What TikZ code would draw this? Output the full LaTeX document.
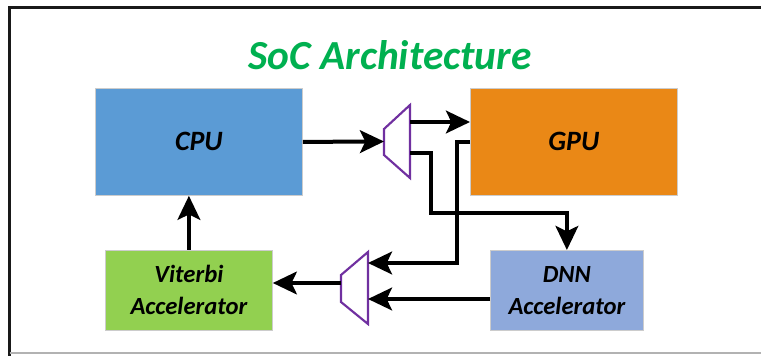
\documentclass[tikz,border=0pt]{standalone}
\usepackage{fontspec}
\setmainfont{Carlito}
\usetikzlibrary{arrows.meta,calc}
\definecolor{titlegreen}{RGB}{0,176,80}
\definecolor{cpublue}{RGB}{91,155,213}
\definecolor{gpuorange}{RGB}{234,136,22}
\definecolor{vitgreen}{RGB}{146,208,80}
\definecolor{dnnblue}{RGB}{142,169,219}
\definecolor{muxpurple}{RGB}{112,48,160}
\tikzset{
  unitbox/.style={draw=black!20, line width=0.6pt, inner sep=0pt, anchor=north west,
    font=\bfseries\itshape\fontsize{18.5}{24}\selectfont, align=center},
  bigtext/.style={font=\bfseries\itshape\fontsize{21}{24}\selectfont},
  arr/.style={line width=3pt, -{Stealth[length=18pt,width=17pt,inset=4pt]}},
  mux/.style={draw=muxpurple, line width=1.6pt, line join=miter}
}
\begin{document}
\begin{tikzpicture}[x=0.75pt,y=-0.75pt]
\useasboundingbox (0,0) rectangle (761,356);
\fill[white] (0,0) rectangle (761,356);
% frame
\draw[line width=2.4pt, black!90] (9.5,356) -- (9.5,7.5) -- (761,7.5);
\draw[line width=1.5pt, black!30] (9.5,353) -- (761,353);
% title
\node[font=\bfseries\itshape\fontsize{31}{36}\selectfont, text=titlegreen] (title) at (390,55) {SoC Architecture};
% boxes
\node[unitbox, bigtext, fill=cpublue, minimum width=207*0.75pt, minimum height=107*0.75pt] (cpu) at (95,88) {CPU};
\node[unitbox, bigtext, fill=gpuorange, minimum width=207*0.75pt, minimum height=107*0.75pt] (gpu) at (470,88) {GPU};
\node[unitbox, fill=vitgreen, minimum width=167*0.75pt, minimum height=80*0.75pt] (vit) at (105,250) {Viterbi\\Accelerator};
\node[unitbox, fill=dnnblue, minimum width=153*0.75pt, minimum height=80*0.75pt] (dnn) at (490,250) {DNN\\Accelerator};
% muxes
\draw[mux] (384,129) -- (410,105) -- (410,178) -- (384,155) -- cycle;
\draw[mux] (341,275) -- (368,252) -- (368,324) -- (341,302) -- cycle;
\coordinate (m1in) at (384,141.5);
\coordinate (m1o1) at (410,122);
\coordinate (m1o2) at (410,153);
\coordinate (m2in1) at (368,263);
\coordinate (m2in2) at (368,299);
\coordinate (m2out) at (341,283);
\coordinate (b1) at (431,213);
\coordinate (b2) at (457,263);
% connectors
\draw[arr] (cpu.east) -- (m1in);
\draw[arr] (m1o1) -- (m1o1 -| gpu.west);
\draw[arr] (m1o2) -| (b1) -| (dnn.north);
\draw[arr] (gpu.west) -| (b2) -- (m2in1);
\draw[arr] (dnn.west |- m2in2) -- (m2in2);
\draw[arr] (m2out) -- (m2out -| vit.east);
\draw[arr] (vit.north) -- (vit.north |- cpu.south);
\end{tikzpicture}
\end{document}
